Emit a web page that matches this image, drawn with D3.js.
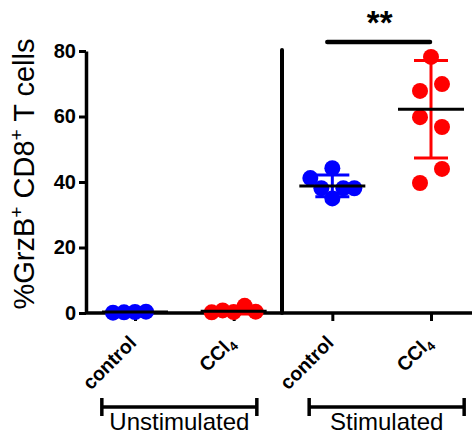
<!DOCTYPE html>
<html>
<head>
<meta charset="utf-8">
<script src="https://cdnjs.cloudflare.com/ajax/libs/d3/7.8.5/d3.min.js"></script>
<style>
body { margin: 0; background: #fff; }
text { font-family: "Liberation Sans", Arial, sans-serif; }
</style>
</head>
<body>
<div class="dot-chart"></div>
<script>
// values
const categories = ["unstimControl", "unstimCCl4", "stimControl", "stimCCl4"];
const tickNames = ["control", "CCl", "control", "CCl"];
const tickSubs = ["", "4", "", "4"];
const groupNames = ["Unstimulated", "Stimulated"];
const yTicks = [0, 20, 40, 60, 80];

const unstimControl = [0.3, 0.2, 0.4, 0.1];
const unstimCCl4 = [0.3, 0.8, 2.2, 0.2, 0.4];
const stimControl = [44.2, 35.0, 38.1, 38.1, 41.2, 38.1];
const stimCCl4 = [78.2, 69.9, 67.8, 56.8, 59.8, 44.0, 39.7];

const means = [0.3, 0.5, 38.8, 62.2];
const sds = [0.1, 0.8, 3.3, 14.9];

const series = [unstimControl, unstimCCl4, stimControl, stimCCl4];
const dotColors = ["#0000ff", "#ff0000", "#0000ff", "#ff0000"];

const width = 475, height = 439;
const marginLeft = 86, plotBottom = 313, plotTop = 51;

var svg = d3.select(".dot-chart")
    .append("svg")
    .attr("width", width)
    .attr("height", height);

var x = d3.scalePoint()
    .domain(categories)
    .range([135, 431]);

var y = d3.scaleLinear()
    .domain([0, 80])
    .range([plotBottom, plotTop]);

// simple beeswarm: step sideways until a dot no longer hits the ones placed before
const r = 8, step = 11, hitX = 11, hitY = 15;
function hits(p, cx, cy) {
    const a = (p.cx - cx) / hitX, b = (p.cy - cy) / hitY;
    return a * a + b * b < 0.999;
}
function swarm(values, xc) {
    const placed = [];
    values.forEach(v => {
        const cy = y(v);
        for (let k = 0; k < 20; k++) {
            const dx = k === 0 ? 0 : (k % 2 ? -1 : 1) * Math.ceil(k / 2) * step;
            if (placed.every(p => !hits(p, xc + dx, cy))) {
                placed.push({cx: xc + dx, cy: cy, v: v});
                break;
            }
        }
    });
    // a centred dot with close neighbours on one side only moves to the other side
    placed.forEach(p => {
        if (p.cx !== xc) return;
        const near = placed.filter(q => q !== p && Math.abs(q.cy - p.cy) < hitY && Math.abs(q.cx - xc) <= step);
        if (!near.length) return;
        const side = d3.sum(near, q => Math.sign(q.cx - xc));
        if (Math.abs(side) !== near.length) return;
        const nx = xc - Math.sign(side) * step;
        if (placed.every(q => q === p || !hits(q, nx, p.cy))) p.cx = nx;
    });
    return placed;
}

// y axis
var yAxisGroup = svg.append("g")
    .attr("transform", `translate(${marginLeft},0)`)
    .call(d3.axisLeft(y).tickValues(yTicks).tickSize(7).tickPadding(3).tickSizeOuter(0));

yAxisGroup.select(".domain").attr("stroke-width", 3.5);
yAxisGroup.selectAll(".tick line").attr("stroke-width", 3);
yAxisGroup.selectAll(".tick text")
    .attr("font-size", 20)
    .attr("font-weight", "bold")
    .attr("fill", "black")
    .attr("font-family", "Liberation Sans, Arial, sans-serif");

// y label
var yLabel = svg.append("text")
    .attr("transform", `translate(34,174) rotate(-90)`)
    .attr("text-anchor", "middle")
    .attr("font-size", 29)
    .attr("fill", "black");
yLabel.append("tspan").text("%GrzB");
yLabel.append("tspan").attr("font-size", 19).attr("dy", -11).text("+");
yLabel.append("tspan").attr("dy", 11).text(" CD8");
yLabel.append("tspan").attr("font-size", 19).attr("dy", -11).text("+");
yLabel.append("tspan").attr("dy", 11).text(" T cells");

// x axis
svg.append("line")
    .attr("x1", marginLeft)
    .attr("x2", width - 3)
    .attr("y1", y(0))
    .attr("y2", y(0))
    .attr("stroke", "black")
    .attr("stroke-width", 3.5);

var xAxisGroup = svg.append("g")
    .attr("transform", `translate(0,${y(0)})`)
    .call(d3.axisBottom(x).tickSize(8).tickFormat(""));

xAxisGroup.select(".domain").remove();
xAxisGroup.selectAll(".tick line").attr("stroke-width", 3);

var tickLabels = xAxisGroup.selectAll(".tick")
    .append("text")
    .attr("class", "lab")
    .attr("transform", "translate(2,31) rotate(-45)")
    .attr("text-anchor", "end")
    .attr("font-size", 19.5)
    .attr("font-weight", "bold")
    .attr("fill", "black");

tickLabels.append("tspan").text((d, i) => tickNames[i]);
tickLabels.append("tspan")
    .attr("font-size", 13)
    .attr("dy", 4)
    .text((d, i) => tickSubs[i]);

// divider between unstimulated and stimulated
const divX = (x(categories[1]) + x(categories[2])) / 2 - 1;
svg.append("line")
    .attr("x1", divX)
    .attr("x2", divX)
    .attr("y1", y(80) - 1)
    .attr("y2", y(0))
    .attr("stroke", "black")
    .attr("stroke-width", 4)
    .attr("stroke-linecap", "round");

// dots
categories.forEach((c, i) => {
    svg.append("g")
        .selectAll("circle")
        .data(swarm(series[i], x(c)))
        .join("circle")
        .attr("cx", d => d.cx)
        .attr("cy", d => d.cy)
        .attr("r", r)
        .attr("fill", dotColors[i]);
});

// mean +/- SD
var stats = categories.map((c, i) => ({c: c, mean: means[i], sd: sds[i], color: dotColors[i]}));

var errGroup = svg.append("g");
stats.forEach(s => {
    const cx = x(s.c);
    const hi = y(s.mean + s.sd), lo = y(s.mean - s.sd);
    errGroup.append("line")
        .attr("x1", cx).attr("x2", cx)
        .attr("y1", hi).attr("y2", lo)
        .attr("stroke", s.color).attr("stroke-width", 3);
    [hi, lo].forEach(yy => {
        errGroup.append("line")
            .attr("x1", cx - 17).attr("x2", cx + 17)
            .attr("y1", yy).attr("y2", yy)
            .attr("stroke", s.color).attr("stroke-width", 3);
    });
});

svg.append("g")
    .selectAll("line")
    .data(stats)
    .join("line")
    .attr("x1", d => x(d.c) - 33)
    .attr("x2", d => x(d.c) + 33)
    .attr("y1", d => y(d.mean))
    .attr("y2", d => y(d.mean))
    .attr("stroke", "black")
    .attr("stroke-width", 3);

// significance bar
const sigY = y(80) - 9;
svg.append("line")
    .attr("x1", x("stimControl") - 5)
    .attr("x2", x("stimCCl4") - 1)
    .attr("y1", sigY)
    .attr("y2", sigY)
    .attr("stroke", "black")
    .attr("stroke-width", 4.5)
    .attr("stroke-linecap", "round");

svg.append("text")
    .attr("x", (x("stimControl") + x("stimCCl4")) / 2 - 2)
    .attr("y", sigY - 8)
    .attr("text-anchor", "middle")
    .attr("font-size", 33)
    .attr("font-weight", "bold")
    .attr("fill", "black")
    .text("**");

// group brackets
groupNames.forEach((g, i) => {
    const a = x(categories[i * 2]), b = x(categories[i * 2 + 1]);
    const mid = (a + b) / 2 + (i === 0 ? -5 : 5);
    const half = 77.5, by = 407;
    const br = svg.append("g");
    br.append("line")
        .attr("x1", mid - half).attr("x2", mid + half)
        .attr("y1", by).attr("y2", by)
        .attr("stroke", "black").attr("stroke-width", 3.5);
    [mid - half, mid + half].forEach(ex => {
        br.append("line")
            .attr("x1", ex).attr("x2", ex)
            .attr("y1", by - 9).attr("y2", by + 9)
            .attr("stroke", "black").attr("stroke-width", 3.5);
    });
    br.append("text")
        .attr("x", mid)
        .attr("y", 430)
        .attr("text-anchor", "middle")
        .attr("font-size", 24)
        .attr("fill", "black")
        .text(g);
});
</script>
</body>
</html>
